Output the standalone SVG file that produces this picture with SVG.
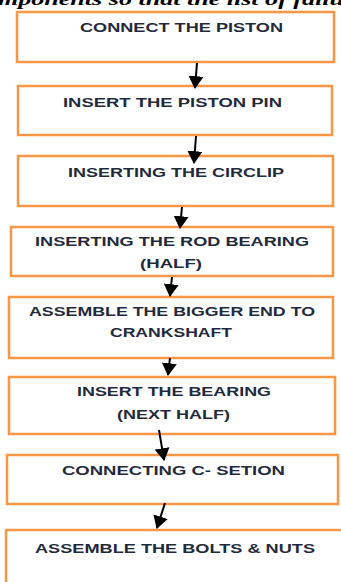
<svg xmlns="http://www.w3.org/2000/svg" width="341" height="582" viewBox="0 0 341 582">
<defs>
<style>
.box{fill:#fff;stroke:#f79646;stroke-width:2.5}
.t{font-family:"Liberation Sans",Arial,sans-serif;font-weight:bold;font-size:13.5px;fill:#1f2a3c}
.c{stroke:#000;stroke-width:2;fill:none}
.cap{font-family:"Liberation Serif","Times New Roman",serif;font-style:italic;font-weight:bold;font-size:17px;fill:#000}
</style>
<marker id="ah" viewBox="0 0 12 14" refX="11" refY="7" markerWidth="6.5" markerHeight="7.5" orient="auto" markerUnits="strokeWidth">
<path d="M0,0 L12,7 L0,14 Z" fill="#000"/>
</marker>
</defs>
<rect width="341" height="582" fill="#fff"/>
<text class="cap" x="-2" y="5" textLength="346" lengthAdjust="spacingAndGlyphs">mponents so that the list of failu</text>
<g id="n1"><rect class="box" x="17" y="12" width="317" height="50"/><text class="t" x="80" y="32" textLength="203" lengthAdjust="spacingAndGlyphs">CONNECT THE PISTON</text></g>
<g id="n2"><rect class="box" x="18" y="86" width="314" height="49"/><text class="t" x="63" y="107" textLength="219" lengthAdjust="spacingAndGlyphs">INSERT THE PISTON PIN</text></g>
<g id="n3"><rect class="box" x="18" y="156" width="315" height="50"/><text class="t" x="68" y="177" textLength="216" lengthAdjust="spacingAndGlyphs">INSERTING THE CIRCLIP</text></g>
<g id="n4"><rect class="box" x="11" y="227" width="322" height="49"/><text class="t" x="35" y="246" textLength="274" lengthAdjust="spacingAndGlyphs">INSERTING THE ROD BEARING</text><text class="t" x="140" y="268" textLength="62" lengthAdjust="spacingAndGlyphs">(HALF)</text></g>
<g id="n5"><rect class="box" x="9" y="297" width="324" height="61"/><text class="t" x="29" y="316" textLength="286" lengthAdjust="spacingAndGlyphs">ASSEMBLE THE BIGGER END TO</text><text class="t" x="110" y="337" textLength="122" lengthAdjust="spacingAndGlyphs">CRANKSHAFT</text></g>
<g id="n6"><rect class="box" x="9" y="377" width="326" height="57"/><text class="t" x="77" y="396" textLength="194" lengthAdjust="spacingAndGlyphs">INSERT THE BEARING</text><text class="t" x="117" y="419" textLength="113" lengthAdjust="spacingAndGlyphs">(NEXT HALF)</text></g>
<g id="n7"><rect class="box" x="7" y="455" width="331" height="49"/><text class="t" x="62" y="475" textLength="223" lengthAdjust="spacingAndGlyphs">CONNECTING C- SETION</text></g>
<g id="n8"><rect class="box" x="6" y="530" width="340" height="60"/><text class="t" x="35" y="553" textLength="280" lengthAdjust="spacingAndGlyphs">ASSEMBLE THE BOLTS &amp; NUTS</text></g>
<g id="connectors">
<line class="c" x1="197" y1="63" x2="195" y2="88" marker-end="url(#ah)"/>
<line class="c" x1="196" y1="136" x2="194" y2="163" marker-end="url(#ah)"/>
<line class="c" x1="182" y1="207" x2="180" y2="228" marker-end="url(#ah)"/>
<line class="c" x1="172" y1="277" x2="170" y2="296" marker-end="url(#ah)"/>
<line class="c" x1="170" y1="358" x2="168" y2="375" marker-end="url(#ah)"/>
<line class="c" x1="159" y1="430" x2="164" y2="460" marker-end="url(#ah)"/>
<line class="c" x1="165" y1="503" x2="157" y2="528" marker-end="url(#ah)"/>
</g>
</svg>
